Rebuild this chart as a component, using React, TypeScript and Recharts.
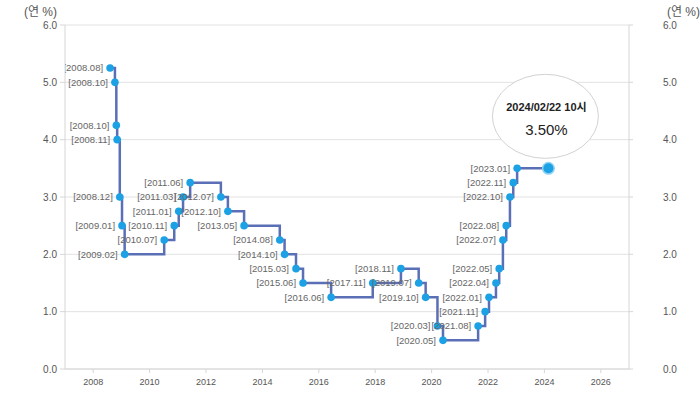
import { ComposedChart, Line, XAxis, YAxis, CartesianGrid } from "recharts";

const changeDates = [
  "2008-08-07", "2008-10-09", "2008-10-27", "2008-11-07", "2008-12-11",
  "2009-01-09", "2009-02-12", "2010-07-09", "2010-11-16", "2011-01-13",
  "2011-03-10", "2011-06-10", "2012-07-12", "2012-10-11", "2013-05-09",
  "2014-08-14", "2014-10-15", "2015-03-12", "2015-06-11", "2016-06-09",
  "2017-11-30", "2018-11-30", "2019-07-18", "2019-10-16", "2020-03-17",
  "2020-05-28", "2021-08-26", "2021-11-25", "2022-01-14", "2022-04-14",
  "2022-05-26", "2022-07-13", "2022-08-25", "2022-10-12", "2022-11-24",
  "2023-01-13", "2024-02-22",
];

const changeLabels = [
  "2008.08", "2008.10", "2008.10", "2008.11", "2008.12",
  "2009.01", "2009.02", "2010.07", "2010.11", "2011.01",
  "2011.03", "2011.06", "2012.07", "2012.10", "2013.05",
  "2014.08", "2014.10", "2015.03", "2015.06", "2016.06",
  "2017.11", "2018.11", "2019.07", "2019.10", "2020.03",
  "2020.05", "2021.08", "2021.11", "2022.01", "2022.04",
  "2022.05", "2022.07", "2022.08", "2022.10", "2022.11",
  "2023.01", "",
];

const baseRates = [
  5.25, 5.0, 4.25, 4.0, 3.0,
  2.5, 2.0, 2.25, 2.5, 2.75,
  3.0, 3.25, 3.0, 2.75, 2.5,
  2.25, 2.0, 1.75, 1.5, 1.25,
  1.5, 1.75, 1.5, 1.25, 0.75,
  0.5, 0.75, 1.0, 1.25, 1.5,
  1.75, 2.25, 2.5, 3.0, 3.25,
  3.5, 3.5,
];

const yearTicks = [2008, 2010, 2012, 2014, 2016, 2018, 2020, 2022, 2024, 2026];
const rateTicks = [0, 1, 2, 3, 4, 5, 6];
const latestStamp = "2024/02/22 10시";
const unitTitle = "(연 %)";

const FONT = '"Liberation Sans", Arial, "Noto Sans CJK KR", sans-serif';
const DOT = "#1ba1e4";

// date string -> fractional year, so the x axis can be numeric
function toYear(d: string) {
  const [y, m, day] = d.split("-").map(Number);
  const start = Date.UTC(y, 0, 1);
  const end = Date.UTC(y + 1, 0, 1);
  return y + (Date.UTC(y, m - 1, day) - start) / (end - start);
}

const data = changeDates.map((d, i) => ({
  t: toYear(d),
  rate: baseRates[i],
  label: changeLabels[i],
}));

function RateDot(props: any) {
  const { cx, cy, index, payload } = props;
  if (cx == null || cy == null) return null;
  if (index === data.length - 1) {
    return (
      <g key={`dot-${index}`}>
        <ellipse cx={cx - 3} cy={cy - 52} rx={53} ry={42} fill="#fff" stroke="#d2d2d2" />
        <text x={cx - 2} y={cy - 57} textAnchor="middle" fontSize={11} fontWeight="bold" fill="#222" fontFamily={FONT}>
          {latestStamp}
        </text>
        <text x={cx - 2} y={cy - 33} textAnchor="middle" fontSize={15} fill="#222" fontFamily={FONT}>
          {payload.rate.toFixed(2)}%
        </text>
        <circle cx={cx} cy={cy} r={6.5} fill="#8fd3f5" />
        <circle cx={cx} cy={cy} r={5} fill={DOT} />
      </g>
    );
  }
  return (
    <g key={`dot-${index}`}>
      <circle cx={cx} cy={cy} r={3.8} fill={DOT} />
      <text x={cx - 7} y={cy} dy="0.35em" textAnchor="end" fontSize={9.5} fill="#666" fontFamily={FONT}>
        [{payload.label}]
      </text>
    </g>
  );
}

function unitLabel(side: "left" | "right") {
  return (p: any) => {
    const vb = p.viewBox || {};
    const x = side === "left" ? vb.x + vb.width - 8 : vb.x + 38;
    return (
      <text x={x} y={16} textAnchor={side === "left" ? "end" : "start"} fontSize={12} fill="#555" fontFamily={FONT}>
        {unitTitle}
      </text>
    );
  };
}

export default function App() {
  return (
    <div style={{ position: "absolute", left: 0, top: 0, width: 700, height: 395, background: "#fff" }}>
      <ComposedChart width={700} height={395} data={data} margin={{ top: 25, right: 0, bottom: 6, left: 0 }}>
        <CartesianGrid vertical={false} stroke="#e2e2e2" />
        <XAxis
          dataKey="t"
          type="number"
          domain={[2007, 2027]}
          ticks={yearTicks}
          allowDataOverflow
          height={20}
          tickSize={4}
          tickMargin={6}
          axisLine={{ stroke: "#d6d6d6" }}
          tickLine={{ stroke: "#d6d6d6" }}
          tick={{ fill: "#555", fontSize: 9, fontFamily: FONT }}
        />
        <YAxis
          orientation="left"
          width={65}
          domain={[0, 6]}
          ticks={rateTicks}
          tickFormatter={(v: number) => v.toFixed(1)}
          tickSize={5}
          tickMargin={3}
          axisLine={{ stroke: "#d6d6d6" }}
          tickLine={{ stroke: "#d6d6d6" }}
          tick={{ fill: "#555", fontSize: 10, fontFamily: FONT }}
          label={unitLabel("left")}
        />
        <YAxis
          yAxisId="r"
          orientation="right"
          width={71}
          domain={[0, 6]}
          ticks={rateTicks}
          tickFormatter={(v: number) => v.toFixed(1)}
          tickSize={4}
          tickMargin={30}
          axisLine={{ stroke: "#d6d6d6" }}
          tickLine={{ stroke: "#d6d6d6" }}
          tick={{ fill: "#555", fontSize: 10, fontFamily: FONT }}
          label={unitLabel("right")}
        />
        {/* invisible series so the right axis gets a scale and its ticks */}
        <Line
          yAxisId="r"
          type="stepAfter"
          dataKey="rate"
          stroke="none"
          dot={false}
          activeDot={false}
          legendType="none"
          isAnimationActive={false}
        />
        <Line
          type="stepAfter"
          dataKey="rate"
          stroke="#5a6fb6"
          strokeWidth={2.5}
          dot={RateDot}
          activeDot={false}
          isAnimationActive={false}
        />
      </ComposedChart>
    </div>
  );
}
